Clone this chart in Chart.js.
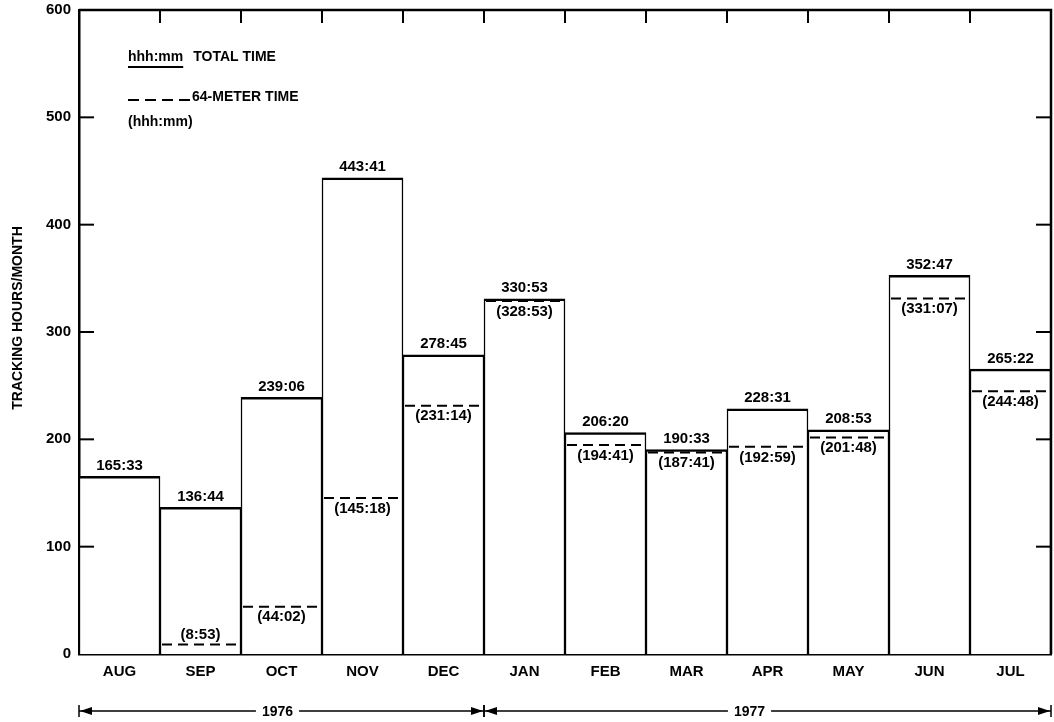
<!DOCTYPE html>
<html><head><meta charset="utf-8">
<script src="https://cdn.jsdelivr.net/npm/chart.js@4/dist/chart.umd.min.js"></script>
<style>html,body{margin:0;padding:0;background:#fff}#wrap{width:1054px;height:722px;position:relative}</style>
</head><body><div id="wrap"><canvas id="c"></canvas></div>
<script>
const months = ['AUG','SEP','OCT','NOV','DEC','JAN','FEB','MAR','APR','MAY','JUN','JUL'];
const totalLabels = ['165:33','136:44','239:06','443:41','278:45','330:53','206:20','190:33','228:31','208:53','352:47','265:22'];
const totalHours = [165.55,136.73,239.10,443.68,278.75,330.88,206.33,190.55,228.52,208.88,352.78,265.37];
const meterLabels = [null,'(8:53)','(44:02)','(145:18)','(231:14)','(328:53)','(194:41)','(187:41)','(192:59)','(201:48)','(331:07)','(244:48)'];
const meterHours = [null,8.88,44.03,145.30,231.23,328.88,194.68,187.68,192.98,201.80,331.12,244.80];
const yearLabels = ['1976','1977'];
const yearFirstMonth = [0,5];
const yearLastMonth = [4,11];
const yTickValues = [0,100,200,300,400,500,600];
const yTitle = 'TRACKING HOURS/MONTH';
const legendTotal = ['hhh:mm','TOTAL TIME'];
const legendMeter = ['64-METER TIME','(hhh:mm)'];

const FONT = '"Liberation Sans", Arial, sans-serif';

const deco = {
  id:'deco',
  afterDatasetsDraw(chart){
    const ctx = chart.ctx, ca = chart.chartArea;
    const xs = chart.scales.x, ys = chart.scales.y;
    const step = (ca.right-ca.left)/months.length;
    ctx.save();
    ctx.strokeStyle='#000'; ctx.fillStyle='#000'; ctx.lineWidth=2;
    // 64-meter dashed levels
    ctx.setLineDash([10,6]);
    meterHours.forEach((m,i)=>{
      if(m===null) return;
      const x = xs.getPixelForValue(i), y = ys.getPixelForValue(m);
      ctx.beginPath(); ctx.moveTo(x-step/2+2,y); ctx.lineTo(x+step/2-2,y); ctx.stroke();
    });
    ctx.setLineDash([]);
    ctx.lineWidth=2.5;
    // top & right frame
    ctx.beginPath();
    ctx.moveTo(ca.left, ca.top); ctx.lineTo(ca.right, ca.top); ctx.lineTo(ca.right, ca.bottom);
    ctx.stroke();
    ctx.lineWidth=2;
    // inner ticks left/right
    yTickValues.forEach(v=>{
      if(v===0||v===600) return;
      const y = ys.getPixelForValue(v);
      ctx.beginPath(); ctx.moveTo(ca.left,y); ctx.lineTo(ca.left+15,y); ctx.stroke();
      ctx.beginPath(); ctx.moveTo(ca.right,y); ctx.lineTo(ca.right-15,y); ctx.stroke();
    });
    // top ticks at month boundaries
    for(let i=1;i<months.length;i++){
      const x = xs.getPixelForValue(i)-step/2;
      ctx.beginPath(); ctx.moveTo(x,ca.top); ctx.lineTo(x,ca.top+13); ctx.stroke();
    }
    // value labels
    ctx.font = 'bold 15px '+FONT;
    ctx.textAlign='center';
    totalHours.forEach((v,i)=>{
      const x = xs.getPixelForValue(i), y = ys.getPixelForValue(v);
      ctx.textBaseline='bottom';
      ctx.fillText(totalLabels[i], x, y-3);
      const m = meterHours[i];
      if(m!==null){
        const ym = ys.getPixelForValue(m);
        if(ym+22 > ca.bottom){ ctx.textBaseline='bottom'; ctx.fillText(meterLabels[i], x, ym-2); }
        else { ctx.textBaseline='top'; ctx.fillText(meterLabels[i], x, ym+3); }
      }
    });
    // legend
    ctx.textAlign='left'; ctx.textBaseline='middle';
    ctx.font='bold 14px '+FONT;
    const lx = 128;
    ctx.fillText(legendTotal[0], lx, 57);
    const w0 = ctx.measureText(legendTotal[0]).width;
    ctx.beginPath(); ctx.moveTo(lx, 67); ctx.lineTo(lx+w0, 67); ctx.stroke();
    ctx.fillText(legendTotal[1], lx+w0+10, 57);
    ctx.setLineDash([11,6]);
    ctx.beginPath(); ctx.moveTo(lx, 100); ctx.lineTo(lx+62, 100); ctx.stroke();
    ctx.setLineDash([]);
    ctx.fillText(legendMeter[0], lx+64, 97);
    ctx.fillText(legendMeter[1], lx, 122);
    // y title
    ctx.save();
    ctx.translate(18, 318);
    ctx.rotate(-Math.PI/2);
    ctx.textAlign='center'; ctx.font='bold 14px '+FONT;
    ctx.fillText(yTitle,0,0);
    ctx.restore();
    // year spans
    const yy = 711;
    ctx.font='bold 14px '+FONT; ctx.textAlign='center'; ctx.textBaseline='middle';
    ctx.lineWidth=1.5;
    const shift = [-4,-18];
    yearLabels.forEach((lab,k)=>{
      const x0 = xs.getPixelForValue(yearFirstMonth[k])-step/2;
      const x1 = xs.getPixelForValue(yearLastMonth[k])+step/2;
      const cx = (x0+x1)/2 + shift[k];
      const tw = ctx.measureText(lab).width/2+6;
      ctx.beginPath(); ctx.moveTo(x0,yy); ctx.lineTo(cx-tw,yy); ctx.moveTo(cx+tw,yy); ctx.lineTo(x1,yy); ctx.stroke();
      ctx.fillText(lab, cx, yy+1);
      ctx.beginPath(); ctx.moveTo(x0,yy-6); ctx.lineTo(x0,yy+6); ctx.moveTo(x1,yy-6); ctx.lineTo(x1,yy+6); ctx.stroke();
      ctx.beginPath(); ctx.moveTo(x0+1,yy); ctx.lineTo(x0+13,yy-4); ctx.lineTo(x0+13,yy+4); ctx.closePath(); ctx.fill();
      ctx.beginPath(); ctx.moveTo(x1-1,yy); ctx.lineTo(x1-13,yy-4); ctx.lineTo(x1-13,yy+4); ctx.closePath(); ctx.fill();
    });
    ctx.restore();
  }
};

new Chart(document.getElementById('c'), {
  type:'bar',
  data:{
    labels: months,
    datasets:[
      {label:'TOTAL TIME', data: totalHours, backgroundColor:'#fff', borderColor:'#000',
       borderWidth:{top:2.5,left:1.5,right:1.5,bottom:0}, borderSkipped:false, barPercentage:1, categoryPercentage:1}
    ]
  },
  options:{
    responsive:true, maintainAspectRatio:false, animation:false,
    layout:{padding:{top:10,right:3,left:0,bottom:0}},
    plugins:{legend:{display:false}, tooltip:{enabled:false}},
    scales:{
      x:{
        grid:{display:false, drawTicks:false},
        border:{display:true,color:'#000',width:2.5},
        ticks:{color:'#000',font:{family:FONT,size:15,weight:'bold'},padding:9,maxRotation:0},
        afterFit(s){ s.height=68; s.paddingLeft=0; s.paddingRight=0; }
      },
      y:{
        min:0,max:600,
        afterBuildTicks(s){ s.ticks = yTickValues.map(v=>({value:v})); },
        grid:{display:false, drawTicks:false},
        border:{display:true,color:'#000',width:2.5},
        ticks:{color:'#000',font:{family:FONT,size:15,weight:'bold'},padding:8},
        afterFit(s){ s.width=79; s.paddingTop=0; s.paddingBottom=0; }
      }
    }
  },
  plugins:[deco]
});
</script></body></html>
